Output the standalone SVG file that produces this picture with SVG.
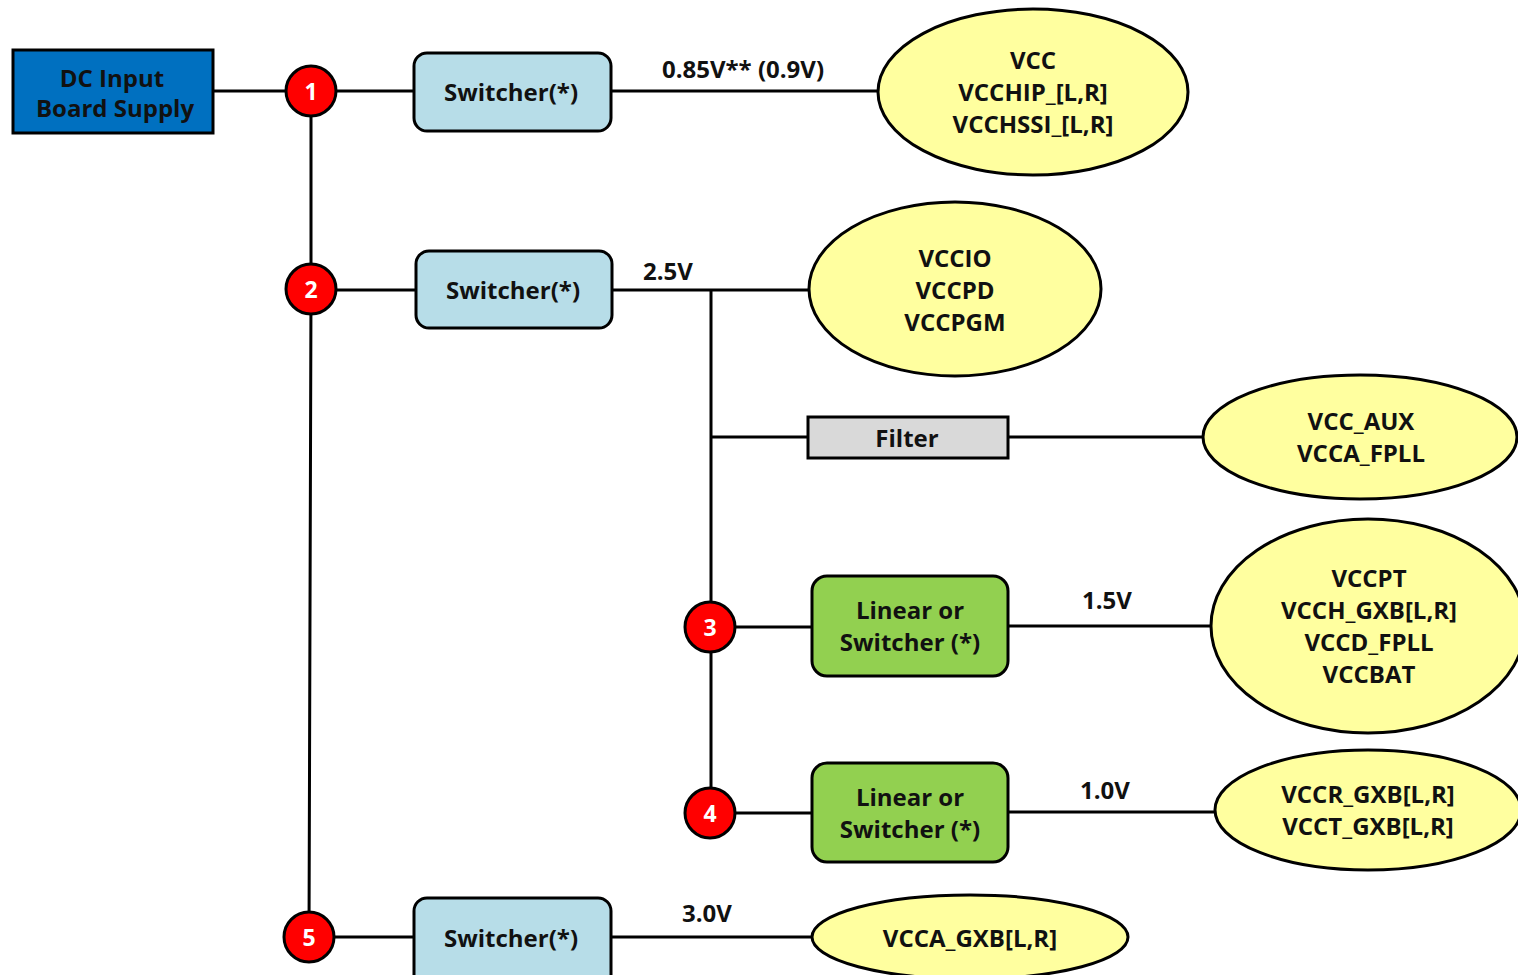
<svg xmlns="http://www.w3.org/2000/svg" width="1518" height="975" viewBox="0 0 1518 975">
<style>
text{font-family:"Open Sans","Liberation Sans",sans-serif;font-weight:700;font-size:24px;fill:#111;text-anchor:middle;dominant-baseline:central}
.ln{stroke:#000;stroke-width:3;fill:none}
.sw{fill:#B7DDE8;stroke:#000;stroke-width:3}
.gr{fill:#92D050;stroke:#000;stroke-width:3}
.el{fill:#FFFF9F;stroke:#000;stroke-width:3}
.ci{fill:#FF0000;stroke:#000;stroke-width:3}
.cn{fill:#fff;font-size:23px}
</style>
<rect width="1518" height="975" fill="#fff"/>
<g id="connectors">
<path class="ln" d="M213 91H414M611 91H878"/>
<path class="ln" d="M311 91V289L309 937"/>
<path class="ln" d="M311 290H416M612 290H809"/>
<path class="ln" d="M711 290V813"/>
<path class="ln" d="M711 437H808M1008 437H1203"/>
<path class="ln" d="M711 627H812M1008 626H1212"/>
<path class="ln" d="M711 813H812M1008 812H1215"/>
<path class="ln" d="M309 937H414M611 937H812"/>
<text x="743" y="68" font-size="25">0.85V** (0.9V)</text>
<text x="668" y="270">2.5V</text>
<text x="1107" y="599">1.5V</text>
<text x="1105" y="789">1.0V</text>
<text x="707" y="912">3.0V</text>
</g>
<g id="dc"><rect x="13" y="50" width="200" height="83" fill="#0070C0" stroke="#000" stroke-width="3"/>
<text x="112" y="77" font-size="22">DC Input</text><text x="115" y="107" font-size="22">Board Supply</text></g>
<g id="n1"><circle class="ci" cx="311" cy="91" r="25"/><text class="cn" x="311" y="91">1</text></g>
<g id="n2"><circle class="ci" cx="311" cy="289" r="25"/><text class="cn" x="311" y="289">2</text></g>
<g id="n3"><circle class="ci" cx="710" cy="627" r="25"/><text class="cn" x="710" y="627">3</text></g>
<g id="n4"><circle class="ci" cx="710" cy="813" r="25"/><text class="cn" x="710" y="813">4</text></g>
<g id="n5"><circle class="ci" cx="309" cy="937" r="25"/><text class="cn" x="309" y="937">5</text></g>
<g id="sw1"><rect class="sw" x="414" y="53" width="197" height="78" rx="13"/><text x="511" y="91">Switcher(*)</text></g>
<g id="sw2"><rect class="sw" x="416" y="251" width="196" height="77" rx="13"/><text x="513" y="289">Switcher(*)</text></g>
<g id="sw3"><rect class="sw" x="414" y="898" width="197" height="90" rx="13"/><text x="511" y="937">Switcher(*)</text></g>
<g id="filter"><rect x="808" y="417" width="200" height="41" fill="#D9D9D9" stroke="#000" stroke-width="3"/><text x="907" y="437">Filter</text></g>
<g id="lin1"><rect class="gr" x="812" y="576" width="196" height="100" rx="15"/><text x="910" y="609">Linear or</text><text x="910" y="641">Switcher (*)</text></g>
<g id="lin2"><rect class="gr" x="812" y="763" width="196" height="99" rx="15"/><text x="910" y="796">Linear or</text><text x="910" y="828">Switcher (*)</text></g>
<g id="e1"><ellipse class="el" cx="1033" cy="92" rx="155" ry="83"/><text x="1033" y="59">VCC</text><text x="1033" y="91">VCCHIP_[L,R]</text><text x="1033" y="123">VCCHSSI_[L,R]</text></g>
<g id="e2"><ellipse class="el" cx="955" cy="289" rx="146" ry="87"/><text x="955" y="257">VCCIO</text><text x="955" y="289">VCCPD</text><text x="955" y="321">VCCPGM</text></g>
<g id="e3"><ellipse class="el" cx="1360" cy="437" rx="157" ry="62"/><text x="1361" y="420">VCC_AUX</text><text x="1361" y="452">VCCA_FPLL</text></g>
<g id="e4"><ellipse class="el" cx="1368" cy="626" rx="157" ry="107"/><text x="1369" y="577">VCCPT</text><text x="1369" y="609">VCCH_GXB[L,R]</text><text x="1369" y="641">VCCD_FPLL</text><text x="1369" y="673">VCCBAT</text></g>
<g id="e5"><ellipse class="el" cx="1368" cy="810" rx="153" ry="60"/><text x="1368" y="793">VCCR_GXB[L,R]</text><text x="1368" y="825">VCCT_GXB[L,R]</text></g>
<g id="e6"><ellipse class="el" cx="970" cy="937" rx="158" ry="42"/><text x="970" y="937">VCCA_GXB[L,R]</text></g>
</svg>
